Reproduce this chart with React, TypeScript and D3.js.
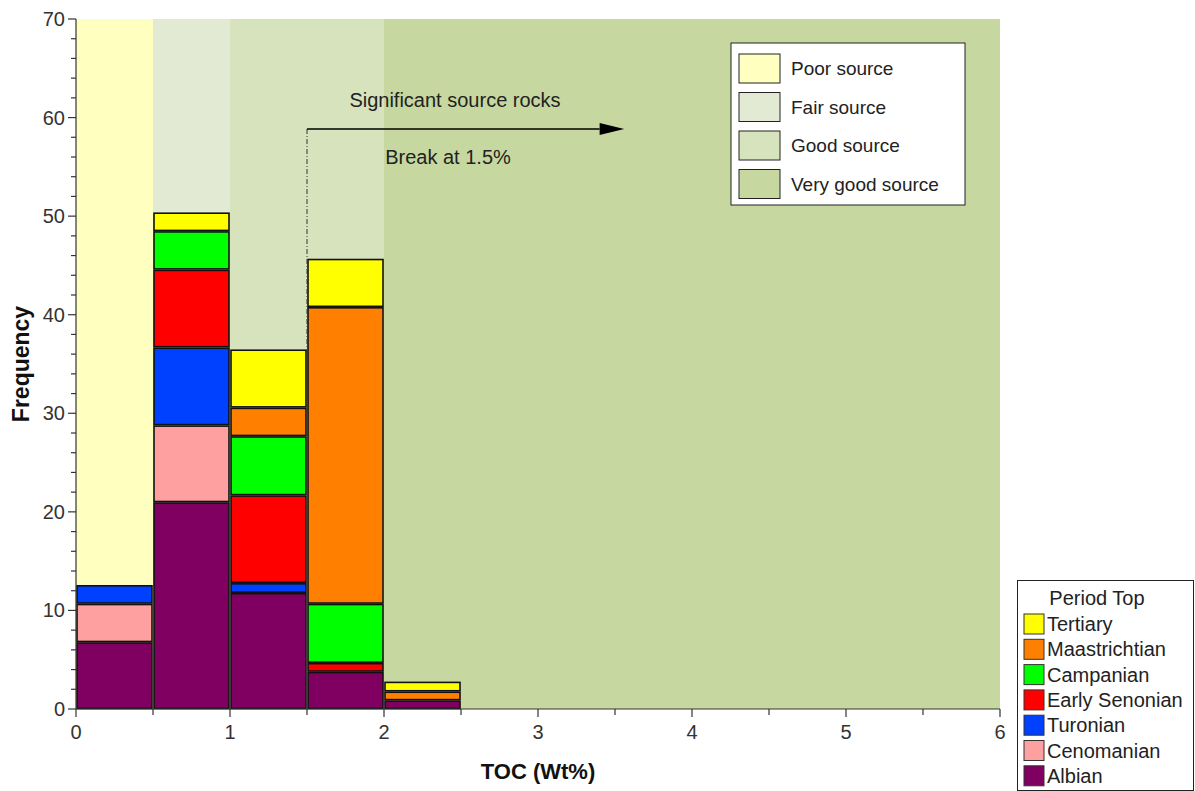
import * as d3 from "d3";

const bins = [0, 0.5, 1, 1.5, 2];
const periods = ["Albian", "Cenomanian", "Turonian", "Early Senonian", "Campanian", "Maastrichtian", "Tertiary"];
const periodColors = ["#7F0060", "#FFA0A0", "#0040FF", "#FF0000", "#00FF00", "#FF8000", "#FFFF00"];
// stacked counts per bin, bottom-up in period order
const albian = [6.8, 21.0, 11.8, 3.8, 0.9];
const cenomanian = [3.9, 7.8, 0, 0, 0];
const turonian = [1.9, 7.9, 1.0, 0, 0];
const earlySenonian = [0, 7.9, 8.9, 0.9, 0];
const campanian = [0, 3.9, 6.0, 6.0, 0];
const maastrichtian = [0, 0, 2.9, 30.1, 0.9];
const tertiary = [0, 1.9, 5.9, 4.9, 1.0];
const seriesValues = [albian, cenomanian, turonian, earlySenonian, campanian, maastrichtian, tertiary];

const zones = [
  { label: "Poor source", from: 0, to: 0.5, color: "#FFFFC0" },
  { label: "Fair source", from: 0.5, to: 1, color: "#E2EAD4" },
  { label: "Good source", from: 1, to: 2, color: "#D7E3BD" },
  { label: "Very good source", from: 2, to: 6, color: "#C6D8A0" },
];

const xTicks = [0, 1, 2, 3, 4, 5, 6];
const yTicks = [0, 10, 20, 30, 40, 50, 60, 70];

const W = 1195;
const H = 791;
const M = { left: 76, right: 195, top: 19, bottom: 82 };
const font = "'Liberation Sans', Arial, sans-serif";

export default function App() {
  const x = d3.scaleLinear().domain([0, 6]).range([M.left, W - M.right]);
  const y = d3.scaleLinear().domain([0, 70]).range([H - M.bottom, M.top]);
  const binW = 0.5;

  const segments: { x0: number; y0: number; y1: number; color: string; key: string }[] = [];
  bins.forEach((b, i) => {
    let acc = 0;
    seriesValues.forEach((vals, s) => {
      const v = vals[i];
      if (v > 0) {
        segments.push({ x0: b, y0: acc, y1: acc + v, color: periodColors[s], key: `${i}-${s}` });
        acc += v;
      }
    });
  });

  const yMinor = d3.range(0, 71, 2);
  const xMinor = d3.range(0, 6.01, 0.5);
  const breakEnd = 32.6;

  return (
    <svg width={W} height={H} style={{ position: "absolute", left: 0, top: 0, fontFamily: font }}>
      <rect x={0} y={0} width={W} height={H} fill="#fff" />
      {zones.map((z) => (
        <rect key={z.label} x={x(z.from)} y={y(70)} width={x(z.to) - x(z.from)} height={y(0) - y(70)} fill={z.color} />
      ))}
      {segments.map((s) => (
        <rect
          key={s.key}
          x={x(s.x0) + 1}
          y={y(s.y1) + 1}
          width={x(s.x0 + binW) - x(s.x0) - 2}
          height={Math.max(0, y(s.y0) - y(s.y1) - 1.5)}
          fill={s.color}
          stroke="#111"
          strokeWidth={1.6}
        />
      ))}
      {/* break line at 1.5 */}
      <line x1={x(1.5)} x2={x(1.5)} y1={129} y2={y(breakEnd)} stroke="#333" strokeWidth={1} strokeDasharray="5,2,1,2" />
      <line x1={x(1.5)} x2={x(3.4)} y1={129} y2={129} stroke="#000" strokeWidth={1.3} />
      <path d={`M${x(3.4)},${123} L${x(3.56)},${129} L${x(3.4)},${135} Z`} fill="#000" />
      <text x={455} y={107} fontSize={20} textAnchor="middle" fill="#222">Significant source rocks</text>
      <text x={448} y={164} fontSize={20} textAnchor="middle" fill="#222">Break at 1.5%</text>

      {/* y axis */}
      <line x1={M.left} x2={M.left} y1={y(70)} y2={y(0)} stroke="#333" strokeWidth={1.2} />
      {yMinor.map((t) => (
        <line key={t} x1={M.left - (t % 10 === 0 ? 8 : 5)} x2={M.left} y1={y(t)} y2={y(t)} stroke="#333" strokeWidth={1.2} />
      ))}
      {yTicks.map((t) => (
        <text key={t} x={M.left - 11} y={y(t) + 7} fontSize={20} textAnchor="end" fill="#333">{t}</text>
      ))}
      {/* x axis */}
      <line x1={x(0)} x2={x(6)} y1={y(0)} y2={y(0)} stroke="#333" strokeWidth={1.2} />
      {xMinor.map((t) => (
        <line key={t} x1={x(t)} x2={x(t)} y1={y(0)} y2={y(0) + (Number.isInteger(t) ? 8 : 6)} stroke="#333" strokeWidth={1.2} />
      ))}
      {xTicks.map((t) => (
        <text key={t} x={x(t)} y={y(0) + 30} fontSize={20} textAnchor="middle" fill="#333">{t}</text>
      ))}
      <text x={538} y={779} fontSize={22} fontWeight="bold" textAnchor="middle" fill="#111">TOC (Wt%)</text>
      <text transform={`translate(29,${(y(0) + y(70)) / 2}) rotate(-90)`} fontSize={23} fontWeight="bold" textAnchor="middle" fill="#111">Frequency</text>

      {/* zone legend */}
      <rect x={731} y={43} width={234} height={162} fill="#fff" stroke="#222" strokeWidth={1} />
      {zones.map((z, i) => (
        <g key={z.label}>
          <rect x={739} y={54 + i * 38.5} width={41} height={29} fill={z.color} stroke="#222" strokeWidth={1} />
          <text x={791} y={75 + i * 38.5} fontSize={19} fill="#222">{z.label}</text>
        </g>
      ))}

      {/* period legend */}
      <rect x={1017.5} y={580.5} width={176} height={210} fill="#fff" stroke="#222" strokeWidth={1} />
      <text x={1097} y={605} fontSize={20} textAnchor="middle" fill="#222">Period Top</text>
      {periods.slice().reverse().map((p, i) => {
        const ci = periods.length - 1 - i;
        return (
          <g key={p}>
            <rect x={1024} y={614 + i * 25.3} width={20} height={20} fill={periodColors[ci]} stroke="#333" strokeWidth={1} />
            <text x={1047} y={631 + i * 25.3} fontSize={20} fill="#222">{p}</text>
          </g>
        );
      })}
    </svg>
  );
}
